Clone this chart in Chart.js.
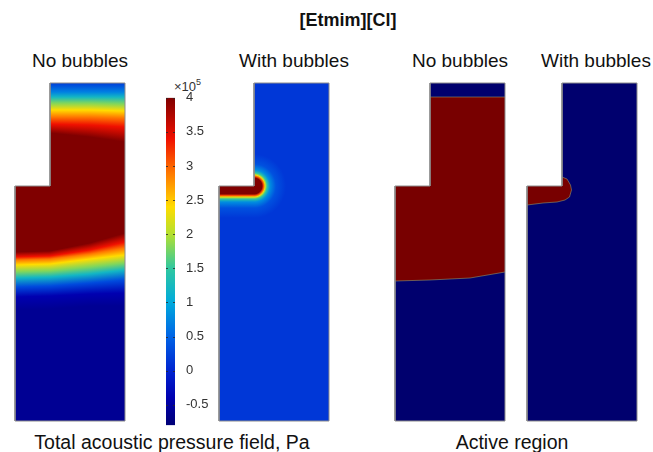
<!DOCTYPE html>
<html>
<head>
<meta charset="utf-8">
<script src="https://cdn.jsdelivr.net/npm/chart.js@4.4.1/dist/chart.umd.min.js"></script>
<style>
  body { margin: 0; background: #fff; width: 653px; height: 452px; overflow: hidden; position: relative;
         font-family: "Liberation Sans", Arial, sans-serif; }
  .lbl { position: absolute; white-space: nowrap; transform: translateX(-50%); font-size: 19px; line-height: 1; color: #111; }
  .box { position: absolute; }
  .exp { position: absolute; left: 174px; top: 79px; font-size: 13px; line-height: 1; color: #333; }
  .exp sup { font-size: 9px; position: relative; top: -1px; }
</style>
</head>
<body>
<div class="lbl" style="left:348px;top:11px;font-size:18px;font-weight:bold">[Etmim][Cl]</div>
<div class="lbl" style="left:80px;top:51px">No bubbles</div>
<div class="lbl" style="left:294px;top:51px">With bubbles</div>
<div class="lbl" style="left:460px;top:51px">No bubbles</div>
<div class="lbl" style="left:596px;top:51px">With bubbles</div>
<div class="lbl" style="left:172px;top:433px;font-size:19.5px">Total acoustic pressure field, Pa</div>
<div class="lbl" style="left:512px;top:433px;font-size:19.5px">Active region</div>
<div class="exp">×10<sup>5</sup></div>

<div class="box" style="left:14px;top:82px"><canvas id="p1" width="112" height="340"></canvas></div>
<div class="box" style="left:218px;top:82px"><canvas id="p2" width="112" height="340"></canvas></div>
<div class="box" style="left:394px;top:82px"><canvas id="p3" width="112" height="340"></canvas></div>
<div class="box" style="left:526px;top:82px"><canvas id="p4" width="112" height="340"></canvas></div>
<div class="box" style="left:166px;top:87px"><canvas id="cbar" width="60" height="349"></canvas></div>

<script>
"use strict";

// ─── Data (mm, pressure in 1e5 Pa) ─────────────────────────────────────────

// reactor cross-section: x from the left wall, depth from the top
const shapeX     = [0, 11, 11, 3.5, 3.5, 0, 0];
const shapeDepth = [33.8, 33.8, 0, 0, 10.3, 10.3, 33.8];
const DOMAIN_W = 11;
const DOMAIN_H = 33.8;

// no bubbles: depth of pressure contours, read at four x positions
const sampleX = [0, 3.5, 7.5, 11];
const upperLevels = [0.2, 0.7, 1.2, 1.8, 2.4, 2.9, 3.4, 4.0];
const upperAt0   = [0, 0.9, 1.4, 2.0, 2.7, 3.4, 4.1, 5.0];
const upperAt35  = [0, 0.9, 1.4, 2.0, 2.7, 3.4, 4.1, 5.0];
const upperAt75  = [0, 0.9, 1.4, 2.0, 2.7, 3.4, 4.2, 5.4];
const upperAt11  = [0, 0.9, 1.4, 2.1, 2.8, 3.5, 4.4, 5.9];
const lowerLevels = [4.0, 3.4, 2.9, 2.4, 1.8, 1.2, 0.3, -0.4, -0.6];
const lowerAt0   = [16.9, 17.4, 17.7, 18.2, 18.9, 19.5, 20.4, 21.4, 22.7];
const lowerAt35  = [16.8, 17.3, 17.6, 18.1, 18.8, 19.4, 20.3, 21.3, 22.6];
const lowerAt75  = [16.0, 16.7, 17.1, 17.6, 18.4, 19.1, 20.0, 21.1, 22.3];
const lowerAt11  = [15.0, 15.9, 16.5, 17.2, 18.0, 18.7, 19.7, 21.0, 22.3];

// with bubbles: pressure vs distance from the horn tip face
const hornTipX = 3.5;
const hornTipDepth = 10.3;
const hornDistance = [0, 0.8, 0.95, 1.1, 1.3, 1.6, 2.2, 3.2];
const hornPressure = [4.4, 4.0, 3.1, 2.3, 1.5, 0.8, 0.35, 0.15];

// active region (|p| > 1e5 Pa), no bubbles
const activeTop    = [1.4, 1.4, 1.4, 1.4];
const activeBottom = [19.8, 19.7, 19.5, 18.9];

// active region with bubbles: outline around the horn tip
const bubbleActiveX = [0, 3.5, 3.5, 4.0, 4.35, 4.45, 4.25, 3.8, 3.0, 1.6, 0];
const bubbleActiveD = [10.3, 10.3, 9.4, 9.6, 10.2, 10.7, 11.4, 11.7, 11.9, 12.0, 12.2];

// colour bar
const CB_MIN = -0.8;
const CB_MAX = 4;
const cbTicks = [4, 3.5, 3, 2.5, 2, 1.5, 1, 0.5, 0, -0.5];

// ─── Styles ────────────────────────────────────────────────────────────────

const OUTLINE = "#8c8c8c";
const ACTIVE_RED = "#780000";
const ACTIVE_BLUE = "#00006e";
const EDGE = "rgba(150,160,110,0.7)";

const CMAP = [
  [-0.8, [0, 0, 118]],
  [-0.4, [0, 0, 176]],
  [0.0,  [0, 36, 208]],
  [0.5,  [0, 100, 230]],
  [1.0,  [0, 170, 220]],
  [1.5,  [48, 200, 160]],
  [2.0,  [180, 224, 48]],
  [2.4,  [255, 220, 0]],
  [2.9,  [255, 120, 0]],
  [3.4,  [240, 16, 0]],
  [4.0,  [128, 0, 0]],
];

function cmap(v) {
  if (v <= CMAP[0][0]) return rgb(CMAP[0][1]);
  for (let i = 1; i < CMAP.length; i++) {
    if (v <= CMAP[i][0]) {
      const [v0, c0] = CMAP[i - 1];
      const [v1, c1] = CMAP[i];
      const t = (v - v0) / (v1 - v0);
      return rgb(c0.map((c, k) => c + (c1[k] - c) * t));
    }
  }
  return rgb(CMAP[CMAP.length - 1][1]);
}

function rgb(c) {
  return `rgb(${Math.round(c[0])},${Math.round(c[1])},${Math.round(c[2])})`;
}

// ─── Helpers ───────────────────────────────────────────────────────────────

function px(chart, x, d) {
  return [chart.scales.x.getPixelForValue(x), chart.scales.y.getPixelForValue(d)];
}

function tracePath(ctx, chart, xs, ds) {
  ctx.beginPath();
  xs.forEach((x, i) => {
    const [a, b] = px(chart, x, ds[i]);
    if (i) ctx.lineTo(a, b); else ctx.moveTo(a, b);
  });
}

function clipToShape(ctx, chart) {
  tracePath(ctx, chart, shapeX, shapeDepth);
  ctx.closePath();
  ctx.clip();
}

function depthsAt(x, columns) {
  let j = 0;
  while (j < sampleX.length - 2 && x > sampleX[j + 1]) j++;
  const t = (x - sampleX[j]) / (sampleX[j + 1] - sampleX[j]);
  return columns[j].map((d, i) => d + (columns[j + 1][i] - d) * t);
}

// ─── Panel painters ────────────────────────────────────────────────────────

function paintNoBubbles(chart) {
  const ctx = chart.ctx;
  const upper = [upperAt0, upperAt35, upperAt75, upperAt11];
  const lower = [lowerAt0, lowerAt35, lowerAt75, lowerAt11];
  const top = chart.scales.y.getPixelForValue(0);
  const bot = chart.scales.y.getPixelForValue(DOMAIN_H);
  ctx.save();
  clipToShape(ctx, chart);
  const n = 110;
  for (let i = 0; i < n; i++) {
    const x0 = (DOMAIN_W * i) / n;
    const x1 = (DOMAIN_W * (i + 1)) / n;
    const xm = (x0 + x1) / 2;
    const g = ctx.createLinearGradient(0, top, 0, bot);
    depthsAt(xm, upper).forEach((d, k) => g.addColorStop(d / DOMAIN_H, cmap(upperLevels[k])));
    depthsAt(xm, lower).forEach((d, k) => g.addColorStop(d / DOMAIN_H, cmap(lowerLevels[k])));
    ctx.fillStyle = g;
    const a = chart.scales.x.getPixelForValue(x0);
    const b = chart.scales.x.getPixelForValue(x1);
    ctx.fillRect(a, top, b - a + 0.6, bot - top);
  }
  ctx.restore();
}

function paintWithBubbles(chart) {
  const ctx = chart.ctx;
  const area = chart.chartArea;
  const [cx, cy] = px(chart, hornTipX, hornTipDepth);
  const maxD = hornDistance[hornDistance.length - 1];
  const r = chart.scales.x.getPixelForValue(maxD) - chart.scales.x.getPixelForValue(0);
  ctx.save();
  clipToShape(ctx, chart);

  const lg = ctx.createLinearGradient(0, cy, 0, cy + r);
  const rg = ctx.createRadialGradient(cx, cy, 0, cx, cy, r);
  hornDistance.forEach((d, i) => {
    lg.addColorStop(d / maxD, cmap(hornPressure[i]));
    rg.addColorStop(d / maxD, cmap(hornPressure[i]));
  });
  ctx.fillStyle = lg;
  ctx.fillRect(area.left, cy, cx - area.left, area.bottom - cy);
  ctx.fillStyle = rg;
  ctx.fillRect(cx, area.top, area.right - cx, area.bottom - area.top);
  ctx.restore();
}

function paintActiveNoBubbles(chart) {
  const ctx = chart.ctx;
  const area = chart.chartArea;
  ctx.save();
  clipToShape(ctx, chart);
  ctx.fillStyle = ACTIVE_BLUE;
  ctx.fillRect(area.left, area.top, area.width, area.height);

  tracePath(ctx, chart, sampleX.concat(sampleX.slice().reverse()),
            activeTop.concat(activeBottom.slice().reverse()));
  ctx.closePath();
  ctx.fillStyle = ACTIVE_RED;
  ctx.fill();

  ctx.strokeStyle = EDGE;
  ctx.lineWidth = 0.8;
  tracePath(ctx, chart, sampleX, activeTop);
  ctx.stroke();
  tracePath(ctx, chart, sampleX, activeBottom);
  ctx.stroke();
  ctx.restore();
}

function paintActiveWithBubbles(chart) {
  const ctx = chart.ctx;
  const area = chart.chartArea;
  ctx.save();
  clipToShape(ctx, chart);
  ctx.fillStyle = ACTIVE_BLUE;
  ctx.fillRect(area.left, area.top, area.width, area.height);

  tracePath(ctx, chart, bubbleActiveX, bubbleActiveD);
  ctx.closePath();
  ctx.fillStyle = ACTIVE_RED;
  ctx.fill();

  ctx.strokeStyle = EDGE;
  ctx.lineWidth = 0.8;
  tracePath(ctx, chart, bubbleActiveX.slice(2), bubbleActiveD.slice(2));
  ctx.stroke();
  ctx.restore();
}

// ─── Charts ────────────────────────────────────────────────────────────────

function makePanel(id, painter) {
  return new Chart(document.getElementById(id), {
    type: "scatter",
    data: {
      datasets: [{
        data: shapeX.map((x, i) => ({ x, y: shapeDepth[i] })),
        showLine: true,
        fill: false,
        borderColor: OUTLINE,
        borderWidth: 1,
        pointRadius: 0,
        clip: 2,
      }],
    },
    options: {
      responsive: false,
      animation: false,
      events: [],
      layout: { padding: 1 },
      scales: {
        x: { type: "linear", min: 0, max: DOMAIN_W, display: false },
        y: { type: "linear", min: 0, max: DOMAIN_H, reverse: true, display: false },
      },
      plugins: { legend: { display: false }, tooltip: { enabled: false } },
    },
    plugins: [{ id: "field", beforeDatasetsDraw: painter }],
  });
}

makePanel("p1", paintNoBubbles);
makePanel("p2", paintWithBubbles);
makePanel("p3", paintActiveNoBubbles);
makePanel("p4", paintActiveWithBubbles);

const tickMarks = {
  id: "tickMarks",
  afterDatasetsDraw(chart) {
    const { ctx, chartArea } = chart;
    const y = chart.scales.y;
    ctx.save();
    ctx.strokeStyle = "rgba(40,40,40,0.8)";
    ctx.lineWidth = 1;
    y.ticks.forEach((t) => {
      const py = Math.round(y.getPixelForValue(t.value)) + 0.5;
      ctx.beginPath();
      ctx.moveTo(chartArea.left, py);
      ctx.lineTo(chartArea.left + 2, py);
      ctx.moveTo(chartArea.right - 2, py);
      ctx.lineTo(chartArea.right, py);
      ctx.stroke();
    });
    ctx.restore();
  },
};

new Chart(document.getElementById("cbar"), {
  type: "bar",
  data: {
    labels: [""],
    datasets: [{
      data: [[CB_MIN, CB_MAX]],
      barPercentage: 1,
      categoryPercentage: 1,
      borderWidth: 0,
      backgroundColor: (c) => {
        const chart = c.chart;
        if (!chart.chartArea) return "#000";
        const y = chart.scales.y;
        const g = chart.ctx.createLinearGradient(0, y.getPixelForValue(CB_MIN), 0, y.getPixelForValue(CB_MAX));
        CMAP.forEach(([v, col]) => g.addColorStop((v - CB_MIN) / (CB_MAX - CB_MIN), rgb(col)));
        return g;
      },
    }],
  },
  options: {
    responsive: false,
    animation: false,
    events: [],
    layout: { padding: { top: 10, bottom: 10, left: 0, right: 0 } },
    scales: {
      x: { display: false },
      y: {
        position: "right",
        min: CB_MIN,
        max: CB_MAX,
        afterFit: (s) => { s.width = 51; },
        afterBuildTicks: (s) => { s.ticks = cbTicks.map((v) => ({ value: v })); },
        grid: { display: false },
        border: { display: false },
        ticks: {
          padding: 3,
          color: "#333",
          font: { size: 13, family: "'Liberation Sans', Arial, sans-serif" },
          callback: (v) => String(v),
        },
      },
    },
    plugins: { legend: { display: false }, tooltip: { enabled: false } },
  },
  plugins: [tickMarks],
});
</script>
</body>
</html>
